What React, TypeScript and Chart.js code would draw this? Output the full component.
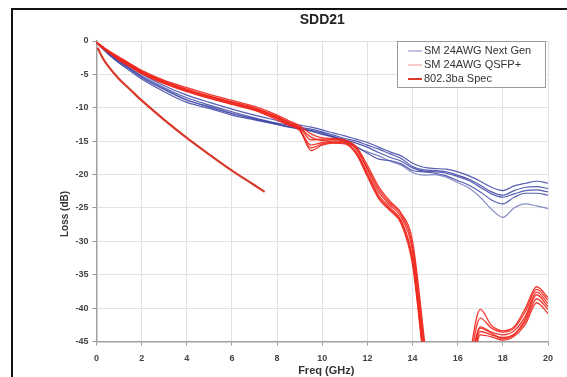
import React, { useEffect, useRef } from "react";
import { Chart, registerables } from "chart.js";
Chart.register(...registerables);

const TITLE = "SDD21";
const X_TITLE = "Freq (GHz)";
const Y_TITLE = "Loss (dB)";
const LEGEND_LABELS = ["SM 24AWG Next Gen", "SM 24AWG QSFP+", "802.3ba Spec"];
const X_MIN = 0;
const X_MAX = 20;
const X_STEP = 2;
const Y_MIN = -45;
const Y_MAX = 0;
const Y_STEP = 5;

const FREQ = [0, 0.25, 0.5, 1, 1.5, 2, 3, 4, 5, 6, 7, 8, 8.5, 9, 9.5, 10, 10.5, 11, 11.5, 12, 12.5, 13, 13.5, 14, 14.5, 15, 15.5, 16, 16.5, 17, 17.5, 18, 18.5, 19, 19.5, 20];

const NEXTGEN_1 = [-0.2, -0.9, -1.6, -2.8, -3.8, -4.9, -6.7, -8.1, -9.2, -10.2, -11.1, -11.9, -12.3, -12.6, -12.9, -13.3, -13.8, -14.2, -14.7, -15.2, -15.9, -16.6, -17.2, -18.3, -18.9, -19.1, -19.2, -19.6, -20.2, -21.0, -21.9, -22.4, -21.7, -21.3, -21.0, -21.3];
const NEXTGEN_2 = [-0.2, -1.0, -1.7, -3.0, -4.1, -5.2, -7.0, -8.5, -9.6, -10.6, -11.5, -12.3, -12.6, -12.9, -13.2, -13.6, -14.1, -14.6, -15.0, -15.6, -16.2, -16.9, -17.6, -18.8, -19.3, -19.4, -19.6, -20.1, -20.7, -21.6, -22.6, -23.1, -22.4, -21.9, -21.8, -22.1];
const NEXTGEN_3 = [-0.2, -1.1, -1.9, -3.3, -4.5, -5.7, -7.6, -9.2, -10.1, -11.1, -11.8, -12.5, -12.8, -13.1, -13.4, -13.8, -14.3, -14.8, -15.3, -15.9, -16.7, -17.4, -18.0, -19.0, -19.5, -19.6, -19.8, -20.3, -20.9, -21.9, -22.9, -23.4, -22.9, -22.4, -22.3, -22.6];
const NEXTGEN_4 = [-0.2, -1.0, -1.8, -3.1, -4.2, -5.4, -7.2, -8.8, -9.9, -10.9, -11.7, -12.5, -12.9, -13.2, -13.5, -14.0, -14.4, -15.0, -15.8, -16.8, -17.7, -17.9, -18.4, -19.4, -19.6, -19.8, -20.2, -20.9, -21.6, -22.6, -23.8, -24.4, -23.4, -22.8, -22.8, -23.1];
const NEXTGEN_5 = [-0.2, -1.0, -1.8, -3.2, -4.3, -5.5, -7.3, -8.9, -9.8, -10.8, -11.6, -12.4, -12.8, -13.1, -13.4, -13.9, -14.4, -15.1, -15.9, -16.6, -17.2, -18.0, -18.6, -19.7, -20.1, -20.0, -20.4, -21.2, -22.0, -23.4, -25.2, -26.4, -25.0, -24.4, -24.7, -25.1];

const QSFP_1 = [-0.2, -0.8, -1.4, -2.4, -3.4, -4.4, -5.9, -7.0, -8.0, -8.9, -9.8, -11.1, -11.9, -12.7, -13.9, -14.5, -14.6, -14.8, -15.8, -18.6, -21.8, -24.0, -25.8, -30.0, -44.0, -60, -60, -60, -48, -40.2, -42.6, -43.4, -42.8, -40.0, -36.8, -38.4];
const QSFP_2 = [-0.2, -0.9, -1.5, -2.6, -3.6, -4.6, -6.1, -7.3, -8.3, -9.2, -10.1, -11.4, -12.2, -13.0, -14.4, -14.9, -14.8, -15.0, -16.2, -19.3, -22.6, -24.6, -26.4, -31.5, -46.0, -60, -60, -60, -50, -42.8, -43.6, -44.0, -43.4, -41.2, -37.6, -39.3];
const QSFP_3 = [-0.2, -1.0, -1.6, -2.8, -3.8, -4.8, -6.3, -7.5, -8.5, -9.4, -10.3, -11.6, -12.5, -13.3, -15.6, -15.2, -15.0, -15.2, -16.6, -19.8, -23.1, -25.0, -26.9, -32.5, -47.0, -60, -60, -60, -52, -43.5, -44.0, -44.4, -43.9, -42.0, -38.6, -40.2];
const QSFP_4 = [-0.2, -0.9, -1.5, -2.7, -3.7, -4.7, -6.2, -7.4, -8.4, -9.3, -10.2, -11.5, -12.4, -13.2, -16.4, -15.6, -15.3, -15.4, -16.9, -20.3, -23.6, -25.4, -27.4, -33.5, -48.0, -60, -60, -60, -51, -43.0, -43.8, -44.6, -44.0, -41.6, -38.0, -39.8];
const QSFP_5 = [-0.2, -0.8, -1.4, -2.5, -3.5, -4.5, -6.0, -7.2, -8.2, -9.1, -10.0, -11.3, -12.1, -12.9, -14.8, -14.7, -14.7, -14.9, -16.0, -19.0, -22.2, -24.3, -26.0, -30.8, -45.0, -60, -60, -60, -49, -41.5, -43.0, -43.6, -43.0, -40.5, -37.2, -38.8];
const QSFP_6 = [-0.2, -1.0, -1.6, -2.9, -3.9, -4.9, -6.4, -7.6, -8.6, -9.5, -10.4, -11.8, -12.6, -13.4, -16.0, -15.4, -15.2, -15.3, -16.7, -20.0, -23.4, -25.2, -27.1, -33.0, -47.5, -60, -60, -60, -53, -44.0, -44.3, -44.8, -44.2, -42.4, -39.2, -40.8];

const SPEC_FREQ = [0.05, 0.25, 0.5, 1, 1.5, 2, 3, 4, 5, 6, 7, 7.45];
const SPEC_LOSS = [-1.0, -2.4, -3.7, -5.7, -7.3, -8.9, -11.8, -14.5, -17.0, -19.4, -21.6, -22.6];

const NEXTGEN_SERIES = [NEXTGEN_1, NEXTGEN_2, NEXTGEN_3, NEXTGEN_4, NEXTGEN_5];
const QSFP_SERIES = [QSFP_1, QSFP_2, QSFP_3, QSFP_4, QSFP_5, QSFP_6];

const BLUE = "rgba(58,66,165,0.85)";
const BLUE_LIGHT = "rgba(120,128,190,0.9)";
const RED = "rgba(240,38,28,0.9)";
const SPEC_RED = "#d8392a";

const toPoints = (xs: number[], ys: number[]) => xs.map((x, i) => ({ x, y: ys[i] }));

const tickFont = { family: "Arial, 'Liberation Sans', sans-serif", size: 9, weight: "bold" as const };

const overlayPlugin = {
  id: "overlay",
  afterDraw(chart: any) {
    const ctx = chart.ctx;
    const area = chart.chartArea;
    ctx.save();
    ctx.fillStyle = "#222";
    ctx.font = "bold 14px Arial, 'Liberation Sans', sans-serif";
    ctx.textAlign = "center";
    ctx.textBaseline = "middle";
    ctx.fillText(TITLE, (area.left + area.right) / 2, 20);
    ctx.font = "bold 11px Arial, 'Liberation Sans', sans-serif";
    ctx.fillStyle = "#333";
    ctx.fillText(X_TITLE, (area.left + area.right) / 2 + 4, 371);
    ctx.save();
    ctx.translate(65, 214);
    ctx.rotate(-Math.PI / 2);
    ctx.font = "bold 10px Arial, 'Liberation Sans', sans-serif";
    ctx.fillText(Y_TITLE, 0, 0);
    ctx.restore();
    const bx = 397, by = area.top, bw = 148, bh = 46;
    ctx.fillStyle = "#fff";
    ctx.fillRect(bx, by, bw, bh);
    ctx.strokeStyle = "#9a9a9a";
    ctx.lineWidth = 1;
    ctx.strokeRect(bx + 0.5, by + 0.5, bw, bh);
    const colors = [BLUE_LIGHT, "rgba(240,140,140,0.9)", SPEC_RED];
    const widths = [1, 1, 2];
    LEGEND_LABELS.forEach((label, i) => {
      const y = by + 10 + i * 14;
      ctx.strokeStyle = colors[i];
      ctx.lineWidth = widths[i];
      ctx.beginPath();
      ctx.moveTo(408, y);
      ctx.lineTo(422, y);
      ctx.stroke();
      ctx.fillStyle = "#333";
      ctx.font = "11px Arial, 'Liberation Sans', sans-serif";
      ctx.textAlign = "left";
      ctx.textBaseline = "middle";
      ctx.fillText(label, 424, y);
    });
    ctx.restore();
  },
};

export default function App() {
  const ref = useRef<HTMLCanvasElement | null>(null);
  useEffect(() => {
    if (!ref.current) return;
    const datasets: any[] = [];
    NEXTGEN_SERIES.forEach((s, i) => {
      datasets.push({
        label: LEGEND_LABELS[0],
        data: toPoints(FREQ, s),
        borderColor: i === 4 ? BLUE_LIGHT : BLUE,
        borderWidth: 1.2,
        order: 3,
      });
    });
    QSFP_SERIES.forEach((s) => {
      datasets.push({
        label: LEGEND_LABELS[1],
        data: toPoints(FREQ, s),
        borderColor: RED,
        borderWidth: 1.3,
        order: 2,
      });
    });
    datasets.push({
      label: LEGEND_LABELS[2],
      data: toPoints(SPEC_FREQ, SPEC_LOSS),
      borderColor: SPEC_RED,
      borderWidth: 2.2,
      order: 1,
    });
    const chart = new Chart(ref.current, {
      type: "line",
      data: { datasets },
      options: {
        animation: false,
        responsive: false,
        maintainAspectRatio: false,
        layout: { padding: { left: 0, right: 19, top: 41, bottom: 0 } },
        elements: {
          point: { radius: 0 },
          line: { cubicInterpolationMode: "monotone", fill: false },
        },
        plugins: { legend: { display: false }, title: { display: false }, tooltip: { enabled: false } },
        scales: {
          x: {
            type: "linear",
            min: X_MIN,
            max: X_MAX,
            ticks: { stepSize: X_STEP, font: tickFont, color: "#444", padding: 8, maxRotation: 0 },
            grid: { color: "#e2e2e2", tickLength: 4, tickColor: "#999" },
            border: { color: "#a0a0a0", width: 1.5 },
            afterFit: (s: any) => { s.height = 35.5; },
          },
          y: {
            type: "linear",
            min: Y_MIN,
            max: Y_MAX,
            ticks: { stepSize: Y_STEP, font: tickFont, color: "#444", padding: 4 },
            grid: { color: "#e2e2e2", tickLength: 4, tickColor: "#999" },
            border: { color: "#a0a0a0", width: 1.5 },
            afterFit: (s: any) => { s.width = 96.5; },
          },
        },
      },
      plugins: [overlayPlugin],
    });
    return () => chart.destroy();
  }, []);
  return (
    <div style={{ position: "absolute", left: 0, top: 0, width: 567, height: 377, overflow: "hidden", background: "#fff" }}>
      <canvas ref={ref} width={567} height={377} style={{ position: "absolute", left: 0, top: 0, width: 567, height: 377 }} />
      <div style={{ position: "absolute", left: 11, top: 8, width: 620, height: 420, border: "2px solid #111", boxSizing: "border-box", pointerEvents: "none" }} />
    </div>
  );
}
